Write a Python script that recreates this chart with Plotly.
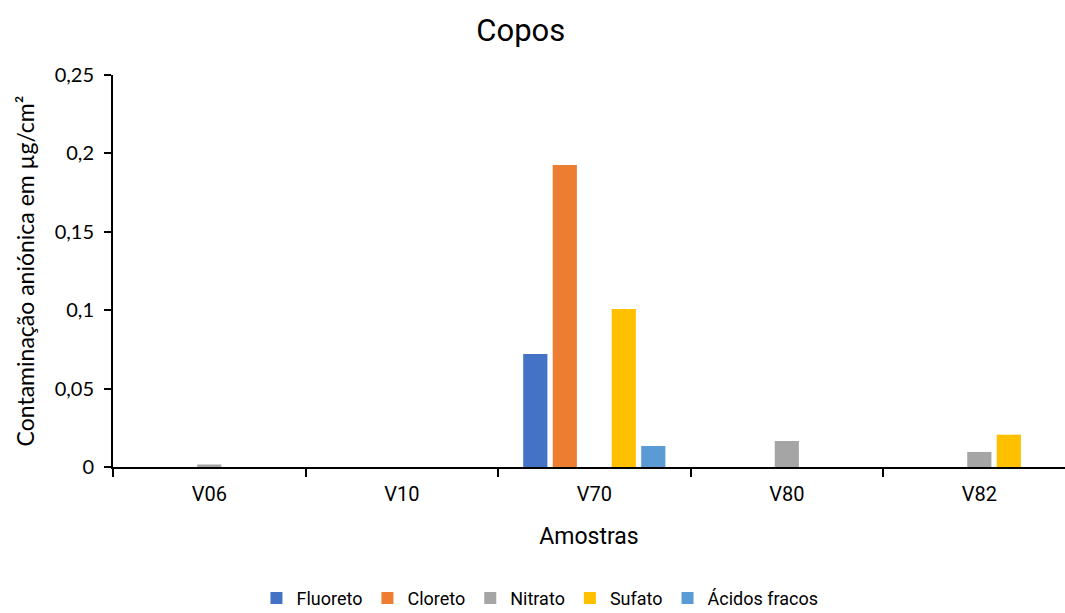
import plotly.graph_objects as go

# Samples and anion contamination (µg/cm²)
amostras = ["V06", "V10", "V70", "V80", "V82"]
fluoreto = [0, 0, 0.0721, 0, 0]
cloreto = [0, 0, 0.1926, 0, 0]
nitrato = [0.0016, 0, 0, 0.0166, 0.0096]
sufato = [0, 0, 0.1008, 0, 0.0206]
acidos_fracos = [0, 0, 0.0134, 0, 0]

y_ticks = [0, 0.05, 0.1, 0.15, 0.2, 0.25]
y_tick_text = ["0", "0,05", "0,1", "0,15", "0,2", "0,25"]

series = [
    ("Fluoreto", fluoreto, "#4472C4"),
    ("Cloreto", cloreto, "#ED7D31"),
    ("Nitrato", nitrato, "#A5A5A5"),
    ("Sufato", sufato, "#FFC000"),
    ("Ácidos fracos", acidos_fracos, "#5B9BD5"),
]

label_font = "Roboto, sans-serif"
num_font = "Lato, Open Sans, sans-serif"

fig = go.Figure()
for name, vals, color in series:
    fig.add_trace(go.Bar(
        name=name, x=amostras, y=vals,
        marker=dict(color=color, line=dict(width=0)),
    ))

fig.update_layout(
    width=1065, height=613,
    margin=dict(l=113, r=0, t=75, b=146),
    paper_bgcolor="white", plot_bgcolor="white",
    barmode="group", bargap=0.234, bargroupgap=0.18,
    title=dict(text="Copos", x=0.489, xanchor="center", xref="container",
               y=0.951, yanchor="middle", yref="container",
               font=dict(family=label_font, size=31, color="black")),
    legend=dict(orientation="h", x=0.507, xanchor="center", xref="container",
                y=0.024, yanchor="middle", yref="container",
                font=dict(family=label_font, size=18, color="black"),
                itemwidth=30, tracegroupgap=0, traceorder="normal"),
    showlegend=True,
)

fig.update_xaxes(
    range=[-0.5, 4.445],
    showline=True, linecolor="black", linewidth=2,
    ticks="outside", tickson="boundaries", ticklen=8, tickcolor="black", tickwidth=2,
    ticklabelstandoff=8,
    tickfont=dict(family=label_font, size=20, color="black"),
    title=dict(text="Amostras", standoff=23,
               font=dict(family=label_font, size=23, color="black")),
    showgrid=False, zeroline=False, fixedrange=True,
)

fig.update_yaxes(
    range=[0, 0.25],
    tickvals=y_ticks, ticktext=y_tick_text,
    showline=True, linecolor="black", linewidth=2,
    ticks="outside", ticklen=7, tickcolor="black", tickwidth=2,
    ticklabelstandoff=6,
    tickfont=dict(family=num_font, size=20, color="black"),
    title=dict(text="Contaminação aniónica em µg/cm²", standoff=14,
               font=dict(family=num_font, size=23, color="black")),
    showgrid=False, zeroline=False, fixedrange=True,
)

fig.write_html("out.html", config={"displayModeBar": False})
